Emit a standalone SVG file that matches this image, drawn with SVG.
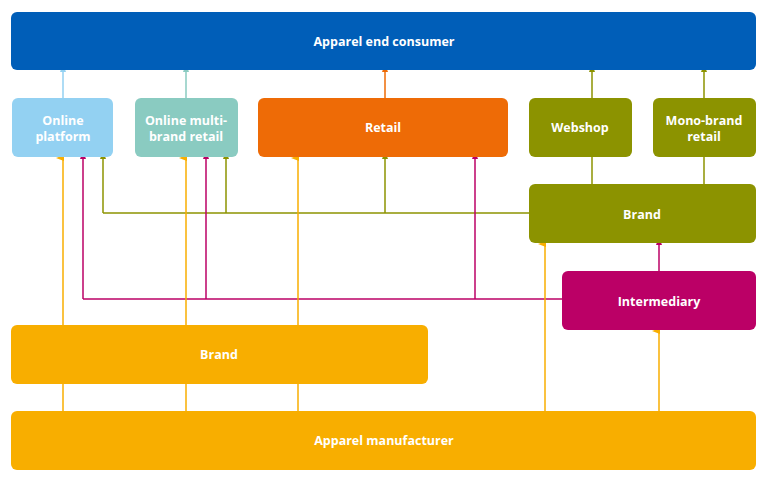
<svg xmlns="http://www.w3.org/2000/svg" width="768" height="484" viewBox="0 0 768 484">
<style>
text{font-family:"Open Sans","DejaVu Sans",sans-serif;font-size:12.5px;font-weight:bold;fill:#fff;text-anchor:middle}
.c line,.c polyline{fill:none;stroke-width:1.5}
.o{stroke:#F8AE00}.g{stroke:#8C9300}.m{stroke:#BB0066}.b{stroke:#93D1F2}.t{stroke:#8ACBC1}.r{stroke:#EE6B06}
</style>
<defs>
<marker id="ao" markerWidth="8" markerHeight="8" refX="4" refY="7" orient="auto-start-reverse" markerUnits="userSpaceOnUse" viewBox="0 0 8 8"><path d="M1,8 L4,0 L7,8Z" fill="#F8AE00"/></marker>
<marker id="ag" markerWidth="8" markerHeight="8" refX="4" refY="7" markerUnits="userSpaceOnUse" viewBox="0 0 8 8"><path d="M1,8 L4,0 L7,8Z" fill="#8C9300"/></marker>
<marker id="am" markerWidth="8" markerHeight="8" refX="4" refY="7" markerUnits="userSpaceOnUse" viewBox="0 0 8 8"><path d="M1,8 L4,0 L7,8Z" fill="#BB0066"/></marker>
<marker id="ab" markerWidth="8" markerHeight="8" refX="4" refY="7" markerUnits="userSpaceOnUse" viewBox="0 0 8 8"><path d="M1,8 L4,0 L7,8Z" fill="#93D1F2"/></marker>
<marker id="at" markerWidth="8" markerHeight="8" refX="4" refY="7" markerUnits="userSpaceOnUse" viewBox="0 0 8 8"><path d="M1,8 L4,0 L7,8Z" fill="#8ACBC1"/></marker>
<marker id="ar" markerWidth="8" markerHeight="8" refX="4" refY="7" markerUnits="userSpaceOnUse" viewBox="0 0 8 8"><path d="M1,8 L4,0 L7,8Z" fill="#EE6B06"/></marker>
</defs>
<g id="connectors" class="c">
<line class="b" x1="63" y1="98" x2="63" y2="71" marker-end="url(#ab)"/>
<line class="t" x1="186" y1="98" x2="186" y2="71" marker-end="url(#at)"/>
<line class="r" x1="385" y1="98" x2="385" y2="71" marker-end="url(#ar)"/>
<line class="g" x1="592" y1="98" x2="592" y2="71" marker-end="url(#ag)"/>
<line class="g" x1="704" y1="98" x2="704" y2="71" marker-end="url(#ag)"/>
<line class="g" x1="592" y1="157" x2="592" y2="184"/>
<line class="g" x1="704" y1="157" x2="704" y2="184"/>
<line class="g" x1="529" y1="213" x2="103" y2="213"/>
<line class="g" x1="103" y1="213" x2="103" y2="158" marker-end="url(#ag)"/>
<line class="g" x1="226" y1="213" x2="226" y2="158" marker-end="url(#ag)"/>
<line class="g" x1="385" y1="213" x2="385" y2="158" marker-end="url(#ag)"/>
<line class="m" x1="562" y1="299" x2="83" y2="299"/>
<line class="m" x1="83" y1="299" x2="83" y2="158" marker-end="url(#am)"/>
<line class="m" x1="206" y1="299" x2="206" y2="158" marker-end="url(#am)"/>
<line class="m" x1="475" y1="299" x2="475" y2="158" marker-end="url(#am)"/>
<line class="m" x1="659" y1="271" x2="659" y2="244" marker-end="url(#am)"/>
<line class="o" x1="63" y1="411" x2="63" y2="158" marker-end="url(#ao)"/>
<line class="o" x1="186" y1="411" x2="186" y2="158" marker-end="url(#ao)"/>
<line class="o" x1="298" y1="411" x2="298" y2="158" marker-end="url(#ao)"/>
<line class="o" x1="545" y1="411" x2="545" y2="244" marker-end="url(#ao)"/>
<line class="o" x1="659" y1="411" x2="659" y2="331" marker-end="url(#ao)"/>
</g>
<g id="consumer"><rect x="11" y="12" width="745" height="58" rx="6" fill="#005EB8"/><text x="384" y="46">Apparel end consumer</text></g>
<g id="online-platform"><rect x="12" y="98" width="101" height="59" rx="6" fill="#93D1F2"/><text x="63" y="125">Online</text><text x="63" y="141">platform</text></g>
<g id="online-multi"><rect x="135" y="98" width="103" height="59" rx="6" fill="#8ACBC1"/><text x="186" y="125">Online multi-</text><text x="186" y="141">brand retail</text></g>
<g id="retail"><rect x="258" y="98" width="250" height="59" rx="6" fill="#EE6B06"/><text x="383" y="132">Retail</text></g>
<g id="webshop"><rect x="529" y="98" width="103" height="59" rx="6" fill="#8C9300"/><text x="580" y="132">Webshop</text></g>
<g id="mono-brand"><rect x="653" y="98" width="103" height="59" rx="6" fill="#8C9300"/><text x="704" y="125">Mono-brand</text><text x="704" y="141">retail</text></g>
<g id="brand-green"><rect x="529" y="184" width="227" height="59" rx="6" fill="#8C9300"/><text x="642" y="219">Brand</text></g>
<g id="intermediary"><rect x="562" y="271" width="194" height="59" rx="6" fill="#BB0066"/><text x="659" y="306">Intermediary</text></g>
<g id="brand-orange"><rect x="11" y="325" width="417" height="59" rx="6" fill="#F8AE00"/><text x="219" y="359">Brand</text></g>
<g id="manufacturer"><rect x="11" y="411" width="745" height="59" rx="6" fill="#F8AE00"/><text x="384" y="445">Apparel manufacturer</text></g>
</svg>
